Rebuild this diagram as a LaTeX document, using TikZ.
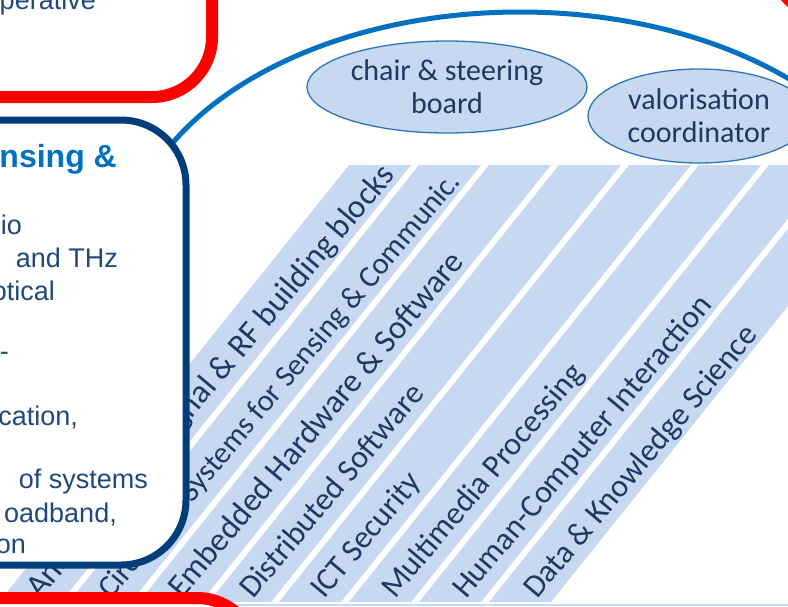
\documentclass[tikz,border=0pt]{standalone}
\usepackage{fontspec}
\setmainfont{Liberation Sans}
\newfontfamily\carlito{Carlito}
\usetikzlibrary{shapes.geometric}
\definecolor{boxred}{RGB}{255,0,0}
\definecolor{boxnavy}{RGB}{0,61,122}
\definecolor{titleblue}{RGB}{0,112,192}
\definecolor{textnavy}{RGB}{31,73,125}
\definecolor{labelnavy}{RGB}{31,56,100}
\definecolor{stripefill}{RGB}{198,217,240}
\definecolor{ovalline}{RGB}{46,117,182}
\tikzset{
    redbox/.style = {draw=boxred, line width=12pt, fill=white, rounded corners=60pt},
    navybox/.style = {draw=boxnavy, line width=7pt, fill=white, rounded corners=65pt},
    boxtext/.style = {inner sep=0pt, anchor=base east, text=textnavy, font=\fontsize{27}{32}\selectfont},
    boxtitle/.style = {boxtext, text=titleblue, font=\fontsize{32}{38}\selectfont\bfseries},
    oval/.style = {ellipse, draw=ovalline, line width=1.3pt, fill=stripefill, inner sep=0pt, align=center, text=labelnavy, font=\carlito\fontsize{30}{33}\selectfont},
    stripe/.style = {fill=stripefill},
    stripelabel/.style = {inner sep=0pt, anchor=base west, rotate=50, text=labelnavy},
    arcline/.style = {draw=titleblue, line width=5pt}
}

\begin{document}
\begin{tikzpicture}[x=1pt, y=-1pt]
    \useasboundingbox (0,0) rectangle (788,606);
    \clip (0,0) rectangle (788,606);

    % research lines
    \foreach \lbl/\fs [count=\k from 0] in {
        {Analog, mixed-signal \& RF building blocks}/33,
        {Circuits \& Systems for Sensing \& Communic.}/30.5,
        {Embedded Hardware \& Software}/33,
        {Distributed Software}/32,
        {ICT Security}/32,
        {Multimedia Processing}/32,
        {Human-Computer Interaction}/32,
        {Data \& Knowledge Science}/32}
    {
        \fill[stripe] (349+70*\k,165) -- ++(62,0) -- ++(-350,437) -- ++(-62,0) -- cycle;
        \node[stripelabel, font=\carlito\fontsize{\fs}{38}\selectfont] (line\k) at (40+71*\k,600) {\lbl};
    }
    \draw[stripefill, line width=2pt] (0,605) -- (788,605);

    % umbrella
    \begin{scope}
        \clip (0,0) rectangle (788,262);
        \draw[arcline] (520,262) ellipse [x radius=395, y radius=250];
    \end{scope}

    \node[oval, minimum width=280pt, minimum height=92pt] (chair) at (447,87) {chair \& steering\\board};
    \node[oval, minimum width=222pt, minimum height=94pt] (valor) at (699,116) {valorisation\\coordinator};

    % boxes round the edge
    \draw[redbox] (-100,-200) rectangle (212,97);
    \node[boxtext] (coop) at (96,9) {perative};

    \draw[navybox] (-100,120) rectangle (186,565);
    \node[boxtitle] (title) at (117,167) {nsing \&};
    \node[boxtext] (t1) at (22,234) {io};
    \node[boxtext] (t2) at (118,267) {and THz};
    \node[boxtext] (t3) at (55,300) {otical};
    \node[boxtext] (t4) at (9,360) {-};
    \node[boxtext] (t5) at (78,425) {cation,};
    \node[boxtext] (t6) at (148,488) {of systems};
    \node[boxtext] (t7) at (117,522) {oadband,};
    \node[boxtext] (t8) at (26,553) {on};

    \draw[redbox] (-100,598) rectangle (257,800);
    \draw[redbox] (771,-200) rectangle (1000,17);
\end{tikzpicture}
\end{document}
